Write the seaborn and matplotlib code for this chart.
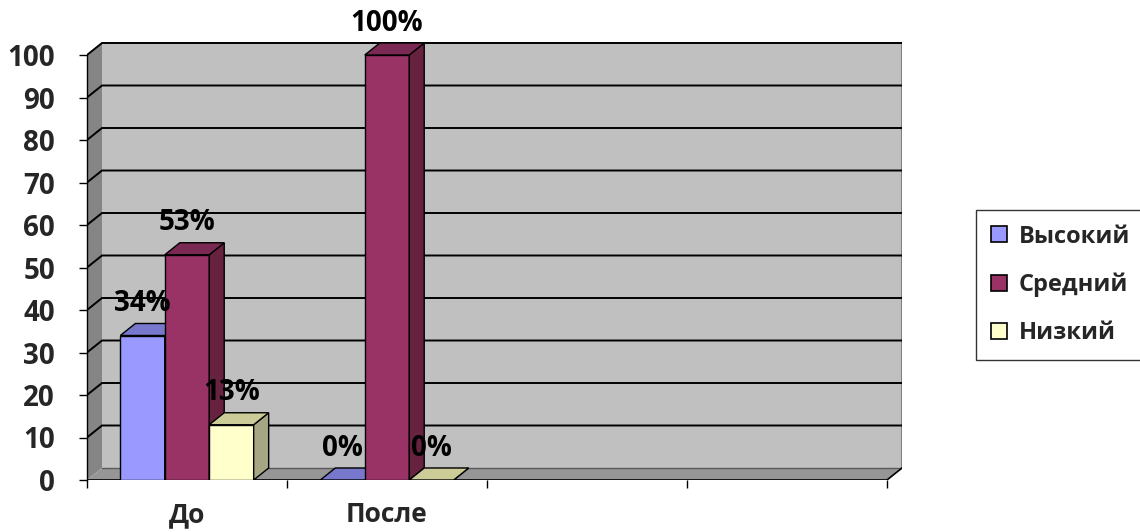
import matplotlib
matplotlib.use("Agg")
import matplotlib.pyplot as plt
from matplotlib.patches import Polygon, Patch
import pandas as pd
import seaborn as sns

# ---- data -------------------------------------------------------------
stages = ["До", "После"]
levels = ["Высокий", "Средний", "Низкий"]
vysokiy = [34, 0]
sredniy = [53, 100]
nizkiy = [13, 0]
y_ticks = [0, 10, 20, 30, 40, 50, 60, 70, 80, 90, 100]

# ---- colours ----------------------------------------------------------
front_col = ["#9999FF", "#993366", "#FFFFCC"]
top_col = ["#7777CC", "#7A2952", "#CCCC99"]
side_col = ["#6B6BB3", "#66223F", "#A6A685"]

sns.set_theme(style="white")
plt.rcParams["font.family"] = ["Open Sans", "DejaVu Sans"]
plt.rcParams["font.weight"] = "bold"
FS = 20
LFS = 17

rows = []
for st, a, b, c in zip(stages, vysokiy, sredniy, nizkiy):
    for lev, v in zip(levels, (a, b, c)):
        rows.append({"Этап": st, "Уровень": lev, "Процент": v})
df = pd.DataFrame(rows)

W, H = 1140, 532
fig = plt.figure(figsize=(W / 100, H / 100), dpi=100)
# plot area: front frame bottom-left and back-wall top-right
ax = fig.add_axes([87 / W, 52 / H, 815 / W, 450 / H])
ax.set_facecolor("none")

PX_X = 1 / 200          # category units per pixel
PX_Y = 100 / 425        # value units per pixel
DX, DY = 15 * PX_X, 12 * PX_Y   # depth offset of the 3-D effect
X0, X1 = -0.5, -0.5 + 815 * PX_X
Y1 = 450 * PX_Y

sns.barplot(data=df, x="Этап", y="Процент", hue="Уровень", order=stages,
            hue_order=levels, palette=front_col, saturation=1, width=2 / 3,
            edgecolor="black", linewidth=1, legend=False, ax=ax, zorder=3)
ax.set_xlim(X0, X1)
ax.set_ylim(0, Y1)

# walls and floor
ax.add_patch(Polygon([(X0 + DX, DY), (X1, DY), (X1, 100 + DY), (X0 + DX, 100 + DY)],
                     closed=True, facecolor="#C0C0C0", edgecolor="none", zorder=0.5))
ax.plot([X1, X1], [DY, 100 + DY], color="#808080", lw=1.5, zorder=0.8)
ax.add_patch(Polygon([(X0, 0), (X0 + DX, DY), (X0 + DX, 100 + DY), (X0, 100)],
                     closed=True, facecolor="#858585", edgecolor="none", zorder=0.6))
ax.add_patch(Polygon([(X0, 0), (X1 - DX, 0), (X1, DY), (X0 + DX, DY)],
                     closed=True, facecolor="#969696", edgecolor="none", zorder=0.7))
ax.plot([X0 + DX, X1], [DY, DY], color="#5A5A5A", lw=1, zorder=0.9)
ax.plot([X0, X1 - DX, X1], [0, 0, DY], color="black", lw=1.2, zorder=2.9,
        solid_joinstyle="miter")

# gridlines on left and back walls
for v in y_ticks[1:]:
    ax.plot([X0, X0 + DX, X1], [v, v + DY, v + DY], color="black", lw=1.4,
            zorder=1, solid_joinstyle="miter")

# 3-D faces and value labels for every bar
bars = []
for k, cont in enumerate(ax.containers):
    for bar in cont:
        bars.append((bar.get_x(), k, bar))
bars.sort(key=lambda t: t[0])
for i, (_, k, bar) in enumerate(bars):
    z = 3 + i * 0.1
    x, w, h = bar.get_x(), bar.get_width(), bar.get_height()
    bar.set_zorder(z)
    ax.add_patch(Polygon([(x + w, 0), (x + w + DX, DY), (x + w + DX, h + DY), (x + w, h)],
                         closed=True, facecolor=side_col[k], edgecolor="black",
                         lw=1, zorder=z + 0.01))
    ax.add_patch(Polygon([(x, h), (x + w, h), (x + w + DX, h + DY), (x + DX, h + DY)],
                         closed=True, facecolor=top_col[k], edgecolor="black",
                         lw=1, zorder=z + 0.02))
    ax.text(x + w / 2, h + 32 * PX_Y, f"{h:.0f}%", ha="center", va="center",
            fontsize=FS, fontweight="bold", color="black", zorder=10, clip_on=False)

# axes, ticks and labels
for s in ax.spines.values():
    s.set_visible(False)
ax.spines["left"].set_visible(True)
ax.spines["left"].set_bounds(0, 100)
ax.spines["left"].set_color("black")
ax.spines["left"].set_linewidth(1)
ax.spines["left"].set_zorder(2.95)
ax.set_yticks(y_ticks)
ax.set_yticklabels([str(t) for t in y_ticks])
ax.tick_params(axis="y", left=True, length=6, width=1, color="black", pad=17,
               labelsize=FS, direction="out")
ax.set_xticks(range(len(stages)))
ax.set_xticklabels(stages)
ax.set_xticks([-0.5, 0.5, 1.5, 2.5, 3.5], minor=True)
ax.tick_params(axis="x", which="major", length=0, pad=15, labelsize=19)
ax.tick_params(axis="x", which="minor", bottom=True, length=6, width=1, color="black")
for lab in ax.get_xticklabels() + ax.get_yticklabels():
    lab.set_fontweight("bold")
ax.set_xlabel("")
ax.set_ylabel("")

handles = [Patch(facecolor=c, edgecolor="black", lw=1.2) for c in front_col]
leg = fig.legend(handles, levels, loc="upper left",
                 bbox_to_anchor=(976 / W, 1 - 210 / H, (1150 - 976) / W, 0),
                 mode="expand", frameon=True, fancybox=False, shadow=False,
                 prop={"weight": "bold", "size": LFS}, handlelength=0.68,
                 handleheight=0.68, handletextpad=0.5, labelspacing=1.02,
                 borderpad=0.62, borderaxespad=0)
leg.get_frame().set_edgecolor("black")
leg.get_frame().set_linewidth(1)

fig.savefig("out.png", dpi=100)
